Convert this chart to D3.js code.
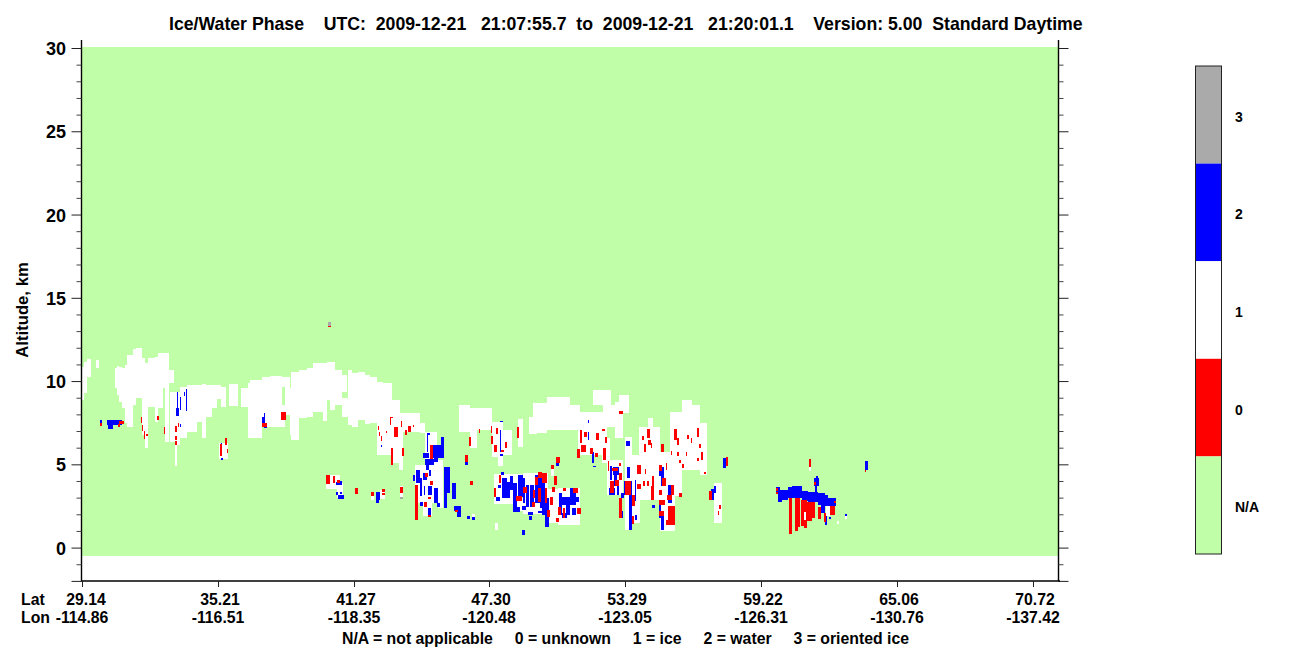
<!DOCTYPE html>
<html><head><meta charset="utf-8">
<script src="https://cdn.jsdelivr.net/npm/d3@7"></script>
<style>html,body{margin:0;padding:0;background:#fff}svg{display:block}text{font-family:"Liberation Sans",Arial,sans-serif;font-weight:bold;fill:#000}</style>
</head><body><svg id="c" width="1300" height="667"></svg>
<script>
const titleText="Ice/Water Phase    UTC:  2009-12-21   21:07:55.7  to  2009-12-21   21:20:01.1    Version: 5.00  Standard Daytime";
const footerText="N/A = not applicable     0 = unknown     1 = ice     2 = water     3 = oriented ice";
const yLabel="Altitude, km";
const altTicks=[0,5,10,15,20,25,30];
const profileTicks=[0,136,272,407,543,679,815,951];
const latLabels=["29.14","35.21","41.27","47.30","53.29","59.22","65.06","70.72"];
const lonLabels=["-114.86","-116.51","-118.35","-120.48","-123.05","-126.31","-130.76","-137.42"];
const phaseCats=["3","2","1","0","N/A"];
const phaseColors=["#aaaaaa","#0000ff","#ffffff","#ff0000","#c0ffa8"];
// each row: first profile, last profile, top km, base km
const iceCells=[
[0,2,10.87,8.87],[2,5,11.17,9.27],[5,9,11.33,10.27],[14,17,11.27,10.81],[33,35,10.77,9.57],[35,37,10.93,9.17],[37,40,10.87,8.77],[40,43,10.81,8.37],[43,45,10.97,7.47],[45,51,11.57,7.27],[51,54,11.93,8.57],[54,60,12.01,8.97],[60,63,11.37,6.77],[63,66,11.07,5.97],[66,73,11.37,8.47],[73,76,11.47,7.57],[76,81,11.67,8.37],[81,87,11.67,9.57],[83,87,9.57,6.37],[87,92,10.67,9.87],[88,93,9.37,6.37],[93,95,9.33,4.87],[95,98,9.33,6.17],[98,105,9.67,6.57],[105,115,9.77,6.97],[115,120,9.77,7.57],[120,124,9.81,6.57],[124,130,9.77,7.87],[130,135,9.77,8.37],[135,139,9.77,8.9],[139,144,9.67,8.47],[147,156,9.81,8.51],
[159,166,9.57,8.47],[166,168,9.87,6.57],[168,180,10.07,6.57],[180,188,10.27,7.27],[188,200,10.33,7.27],[200,203,10.27,9.67],[200,203,8.57,7.27],[203,208,10.27,7.97],[208,211,9.57,6.77],[209,217,10.57,6.47],[217,225,10.67,7.77],[225,231,10.77,7.87],[231,241,11.07,8.17],[241,245,11.07,7.61],[245,253,11.17,8.87],[248,253,8.87,8.27],[253,260,10.67,8.57],[260,265,10.37,9.37],[260,266,8.97,7.87],[266,270,10.67,7.37],[270,276,10.47,7.27],[276,283,10.57,7.67],[283,288,10.37,7.43],[288,295,10.27,7.47],[295,301,9.97,6.37],[301,310,9.87,7.5],[310,318,8.87,7.5],
[295,310,7.97,5.57],[310,317,7.97,5.07],[317,321,8.07,4.63],[321,338,8.07,6.97],[338,343,7.47,6.87],[343,355,6.97,5.27],
[137,146,6.3,5.3],[333,351,4.97,2.67],[351,356,5.27,2.67],[356,361,5.27,2.37],[341,350,2.67,1.87],[244,258,4.37,3.5],[255,261,3.87,2.97],[289,292,3.11,2.83],[298,303,3.47,2.93],[318,321,3.71,2.93],
[377,388,8.57,6.97],[388,395,8.37,5.97],[395,410,8.37,7.07],[410,416,7.57,5.47],[416,421,7.57,4.87],[421,430,7.07,5.57],[436,441,7.71,6.07],[447,455,7.87,6.83],[451,465,8.67,6.87],[465,488,9.07,7.07],[488,498,8.57,7.07],[498,521,8.17,7.27],[496,525,7.27,5.57],[511,529,9.47,8.57],[521,533,8.57,7.27],[533,541,8.77,6.57],[537,547,9.17,8.07],[520,528,6.57,5.07],[525,541,5.27,3.17],[543,550,6.67,1.07],[550,558,5.57,1.47],[557,566,7.27,2.87],[566,571,7.77,2.87],[571,578,7.27,2.87],[578,593,5.77,0.97],[588,600,8.17,3.07],[600,610,8.87,4.67],[610,618,8.57,4.67],[618,625,7.47,4.37],[632,640,3.87,1.47],
[412,440,4.4,2.6],[431,447,3.0,2.2],[441,466,4.5,2.0],[466,476,3.5,1.5],[476,498,3.6,1.36],[469,472,4.71,4.31],[413,416,1.47,1.07],[390,393,2.03,1.63],[744,748,2.5,1.9],[763,765,1.9,1.72],[755,757,1.6,1.42],[727,729,4.86,4.6],[722,725,2.16,1.66]
];
const unknownCells=[
[18,20,7.47,7.31],[37,42,7.63,7.43],[36,38,7.43,7.27],[59,60,7.87,7.47],[60,61,7.37,7.03],[62,63,7.03,6.51],[64,66,6.83,6.71],[75,77,7.91,7.67],[82,83,7.27,6.83],[93,95,7.31,6.95],[93,95,6.71,6.47],[93,95,6.41,6.17],[96,97,7.47,7.23],[138,140,6.23,5.53],[143,145,6.57,6.17],[145,146,5.93,5.67],[180,185,7.47,7.27],[199,204,8.15,7.67],[246,249,13.31,13.25],[296,297,7.31,7.07],[297,298,6.93,6.71],[299,300,6.71,6.41],[304,305,7.0,6.9],[308,309,7.87,7.37],[308,311,7.87,7.8],[309,311,5.97,4.93],[312,316,7.27,6.67],[319,320,7.63,7.27],[323,325,7.07,6.77],[326,329,7.31,6.97],[331,332,7.37,7.27],[320,322,5.97,5.51],[244,248,4.37,3.83],[251,253,4.27,3.87],[255,258,4.07,3.87],[273,276,3.59,3.23],[289,292,3.35,3.11],[300,303,3.53,3.35],[300,303,3.29,3.17],[318,321,3.65,3.29],
[348,351,6.17,5.31],[333,336,3.77,1.63],[348,351,3.97,3.77],[342,345,2.71,2.43],[346,349,1.97,1.81],[346,349,3.05,2.93],[343,346,4.47,4.23],[373,376,2.27,2.13],[388,391,4.01,3.77],[383,386,5.57,5.11],[387,389,6.67,6.11],[397,398,7.11,6.87],[409,410,7.31,6.87],[409,411,6.71,6.23],[412,415,6.17,5.77],[414,416,7.17,6.83],[423,425,6.37,5.97],[419,422,5.87,5.75],[435,437,7.27,6.57],[469,472,4.97,4.71],[474,478,5.43,5.07],[472,475,4.31,3.77],
[417,419,4.36,3.86],[412,414,3.56,3.06],[456,460,4.56,4.16],[460,465,4.46,3.86],[453,456,4.26,3.76],[434,440,3.12,2.8],[441,445,3.66,3.26],[450,453,2.76,2.46],[456,459,3.56,2.76],[451,453,3.46,2.96],[463,465,3.56,2.66],[468,471,3.06,2.56],[465,468,2.26,1.86],[474,477,1.8,1.52],[476,479,2.46,1.96],[481,484,3.56,3.4],[481,483,2.36,1.76],[491,496,3.56,3.26],[495,499,2.4,2.0],[470,473,3.66,3.32],
[498,500,7.07,6.27],[502,505,6.97,6.63],[495,498,5.93,5.37],[499,504,6.17,5.77],[508,511,5.97,5.63],[513,516,5.71,5.47],[514,517,6.87,6.47],[520,523,7.13,7.01],[523,525,6.67,6.31],[537,541,8.19,8.03],[521,524,5.97,5.27],[526,527,5.17,4.57],[528,532,3.97,3.27],[530,536,4.77,4.57],[533,537,4.07,3.67],[537,540,4.47,4.07],[537,539,5.07,4.91],[537,540,2.97,1.77],[543,549,3.97,3.17],[555,559,4.97,4.43],[555,559,3.83,3.53],[550,553,3.17,2.47],[550,552,1.87,1.43],[560,562,6.71,6.47],[562,564,6.23,5.77],[565,568,7.13,6.57],[566,569,6.47,6.17],[569,570,6.27,5.97],[563,564,4.71,4.41],[561,563,3.97,3.67],[565,567,3.97,3.67],[569,572,3.71,2.87],[570,572,4.27,3.71],[577,580,4.97,4.57],[577,580,3.47,3.17],[579,582,6.23,5.77],[580,584,4.17,3.71],[577,583,2.87,2.57],[577,582,2.17,1.87],[584,585,5.07,4.67],[585,590,3.17,2.87],[589,592,3.77,3.17],[586,593,2.47,1.37],[584,586,1.67,1.33],[597,600,3.27,3.01],[592,595,7.11,6.47],[595,597,6.57,6.17],[589,590,5.83,5.57],[595,597,5.77,5.51],[597,599,5.27,5.07],[600,602,5.03,4.79],[605,607,6.77,6.53],[609,610,6.57,6.31],[604,605,5.77,5.51],[615,617,7.17,6.63],[617,619,6.23,6.01],[619,621,5.77,5.27],[615,617,5.41,5.17],[622,624,4.53,4.43],[627,630,3.41,2.83],[637,639,2.57,2.33],[636,637,2.21,1.93],[644,646,5.43,4.87],
[707,710,2.96,0.82],[713,716,2.96,1.0],[716,718,2.96,1.22],[719,722,2.86,1.3],[722,725,2.86,2.16],[722,725,1.66,1.16],[724,730,2.76,1.6],[730,733,2.76,1.76],[736,739,2.46,1.72],[742,744,2.06,1.54],[748,753,2.5,1.94],[727,729,5.32,4.86],[783,784,4.66,4.54],[694,696,3.56,3.42],[694,696,3.36,3.22],[752,754,2.82,2.66],[732,734,3.96,3.76]
];
const waterCells=[
[18,20,7.67,7.47],[25,40,7.67,7.37],[26,31,7.37,7.13],[94,97,8.37,7.91],[95,96,9.37,8.37],[98,99,9.03,8.27],[102,103,9.37,9.11],[104,105,9.53,8.23],[98,99,7.43,7.27],[139,141,5.39,5.27],[139,140,6.27,6.17],[180,182,7.87,7.37],[182,183,8.07,7.47],[182,185,7.33,7.19],[299,300,6.17,6.05],[257,260,4.01,3.73],[254,257,3.91,3.77],[254,256,3.35,3.17],[258,260,3.35,3.23],[256,262,3.17,2.93],[273,276,3.47,3.35],[294,298,3.35,2.87],[294,297,2.87,2.69],
[299,300,6.71,6.65],[345,346,6.87,5.77],[345,348,6.87,6.77],[351,362,6.17,5.37],[359,362,6.63,6.07],[341,347,5.71,5.37],[343,352,5.31,4.97],[352,356,5.37,5.11],[344,347,4.97,4.67],[362,368,4.83,4.07],[362,365,4.07,2.37],[365,368,4.07,3.27],[370,374,3.87,2.91],[352,356,3.57,2.67],[355,358,2.67,2.43],[346,350,3.71,3.17],[331,333,4.37,3.97],[334,338,4.67,3.87],[338,340,4.17,3.07],[341,345,4.47,4.07],[342,343,3.67,3.17],[347,349,4.67,4.27],[338,341,2.71,2.51],[346,349,3.05,2.93],[346,349,2.37,1.97],[372,379,2.47,2.17],[375,379,2.17,1.81],[385,388,1.91,1.73],[390,393,1.81,1.63],[440,443,1.07,0.77],[383,386,5.11,4.97],[418,419,7.07,5.77],[418,421,7.59,7.53],[418,421,5.63,5.51],[474,477,5.07,4.91],[472,475,3.87,3.77],
[419,422,4.52,4.36],[420,425,4.16,2.96],[414,418,3.06,2.82],[416,419,3.76,3.56],[428,431,4.3,3.46],[425,428,3.96,2.96],[431,435,3.86,2.36],[436,441,4.36,3.06],[441,443,4.16,2.66],[444,447,3.76,2.46],[448,452,3.76,2.46],[453,458,4.36,2.66],[458,463,4.16,2.36],[463,467,2.96,1.26],[431,438,2.46,2.16],[440,444,2.52,2.26],[446,451,2.16,1.96],[447,450,1.92,1.66],[456,460,2.2,2.06],[460,465,2.36,1.96],[477,480,3.26,1.96],[480,488,3.06,2.56],[484,488,2.56,1.96],[488,494,3.56,2.56],[490,494,2.36,1.96],[494,497,3.06,2.76],[495,498,2.36,2.2],[480,485,2.06,1.76],[472,475,4.26,3.86],
[522,524,5.97,5.27],[510,512,5.77,5.07],[511,514,4.91,4.81],[506,507,7.67,7.47],[506,507,6.97,6.47],[528,530,4.87,4.07],[531,537,4.83,4.37],[532,535,4.37,3.67],[527,533,3.57,3.17],[535,537,4.07,3.17],[539,542,3.27,2.97],[544,548,6.41,6.11],[545,548,4.83,4.17],[542,550,3.97,3.17],[547,550,3.17,1.03],[550,552,3.17,2.87],[553,555,1.97,1.67],[553,554,4.07,2.77],[539,541,2.17,1.77],[577,580,4.63,4.27],[579,582,4.83,3.71],[570,573,2.57,2.37],[570,572,3.07,2.87],[577,579,2.67,1.77],[579,582,1.97,1.03],[586,590,3.73,2.67],[629,632,3.53,2.83],[632,634,3.71,3.27],[641,644,5.39,4.75],[783,786,5.2,4.66],
[694,698,3.64,3.22],[696,700,3.46,2.76],[700,706,3.46,2.86],[706,710,3.62,2.96],[710,720,3.7,2.96],[720,726,3.42,2.82],[726,736,3.36,2.76],[732,737,4.16,3.7],[734,736,4.3,4.16],[733,735,3.7,3.26],[736,739,3.3,2.56],[739,743,3.3,2.06],[743,746,3.16,2.5],[746,752,2.96,2.5],[752,754,3.0,2.5],[743,745,1.9,1.36],[747,749,1.84,1.72],[763,765,2.02,1.9]
];
const orientedCells=[[246,249,13.55,13.31],[318,321,3.05,2.93]];

const svg=d3.select("#c");
const x=d3.scaleLinear().domain([0,976]).range([82,1058]);
const y=d3.scaleLinear().domain([-2,30]).range([580.9,48]);
const plotTop=30.06, plotBase=-0.5;
svg.append("rect").attr("x",x(0)).attr("y",y(plotTop)).attr("width",x(976)-x(0)).attr("height",y(plotBase)-y(plotTop)).attr("fill",phaseColors[4]);
const layers=[[iceCells,phaseColors[2]],[waterCells,phaseColors[1]],[unknownCells,phaseColors[3]],[orientedCells,phaseColors[0]]];
layers.forEach(([cells,col])=>{
  svg.append("g").attr("shape-rendering","crispEdges").selectAll("rect").data(cells).join("rect")
    .attr("x",d=>x(d[0])).attr("width",d=>x(d[1])-x(d[0]))
    .attr("y",d=>y(d[2])).attr("height",d=>y(d[3])-y(d[2])).attr("fill",col);
});
// axes
const minor=d3.range(-2,31);
const yL=svg.append("g").attr("transform","translate(81.5,0)")
  .call(d3.axisLeft(y).tickValues(minor).tickSize(5).tickFormat(d=>""));
const yR=svg.append("g").attr("transform","translate(1058.5,0)")
  .call(d3.axisRight(y).tickValues(minor).tickSize(5).tickFormat(d=>""));
[yL,yR].forEach((g,k)=>{
  g.select(".domain").attr("d",`M0,40V581`).attr("stroke","#000").attr("stroke-width",1.4);
  g.selectAll(".tick line").attr("stroke","#444").filter(d=>d%5===0||d===-2).attr("x2",k?10:-10).attr("stroke","#222");
});
yL.selectAll(".tick text").remove();yR.selectAll(".tick text").remove();
svg.append("g").selectAll("text").data(altTicks).join("text").attr("x",66).attr("y",d=>y(d)+7).attr("text-anchor","end").attr("font-size",18).text(d=>d);
const xA=svg.append("g").attr("transform","translate(0,581)")
  .call(d3.axisBottom(x).tickValues(profileTicks).tickSize(6).tickFormat(()=>""));
xA.select(".domain").attr("d","M81,0H1060").attr("stroke","#000").attr("stroke-width",1.6);
xA.selectAll(".tick line").attr("stroke","#222");
const lblFont=15.8;
svg.append("g").selectAll("text").data(latLabels).join("text").attr("x",(d,i)=>x(profileTicks[i])+(i===0?4:2)).attr("y",605).attr("text-anchor","middle").attr("font-size",lblFont).text(d=>d);
svg.append("g").selectAll("text").data(lonLabels).join("text").attr("x",(d,i)=>x(profileTicks[i])).attr("y",623).attr("text-anchor","middle").attr("font-size",lblFont).text(d=>d);
svg.append("text").attr("x",21).attr("y",605).attr("font-size",lblFont).text("Lat");
svg.append("text").attr("x",21).attr("y",623).attr("font-size",lblFont).text("Lon");
svg.append("text").attr("x",169).attr("y",30).attr("font-size",17.7).style("white-space","pre").text(titleText);
svg.append("text").attr("x",342).attr("y",644).attr("font-size",15.8).style("white-space","pre").text(footerText);
svg.append("text").attr("transform","translate(28,310) rotate(-90)").attr("text-anchor","middle").attr("font-size",16.7).text(yLabel);
// colour bar
const band=d3.scaleBand().domain(phaseCats).range([66,554]);
const bar=svg.append("g");
bar.selectAll("rect").data(phaseCats).join("rect").attr("x",1195.5).attr("width",26).attr("y",d=>band(d)).attr("height",band.bandwidth()).attr("fill",(d,i)=>phaseColors[i]);
bar.append("rect").attr("x",1195.5).attr("y",66).attr("width",26).attr("height",488).attr("fill","none").attr("stroke","#222").attr("stroke-width",1);
bar.selectAll("text").data(phaseCats).join("text").attr("x",1235).attr("y",d=>band(d)+band.bandwidth()/2+7).attr("font-size",14).text(d=>d);
</script></body></html>
